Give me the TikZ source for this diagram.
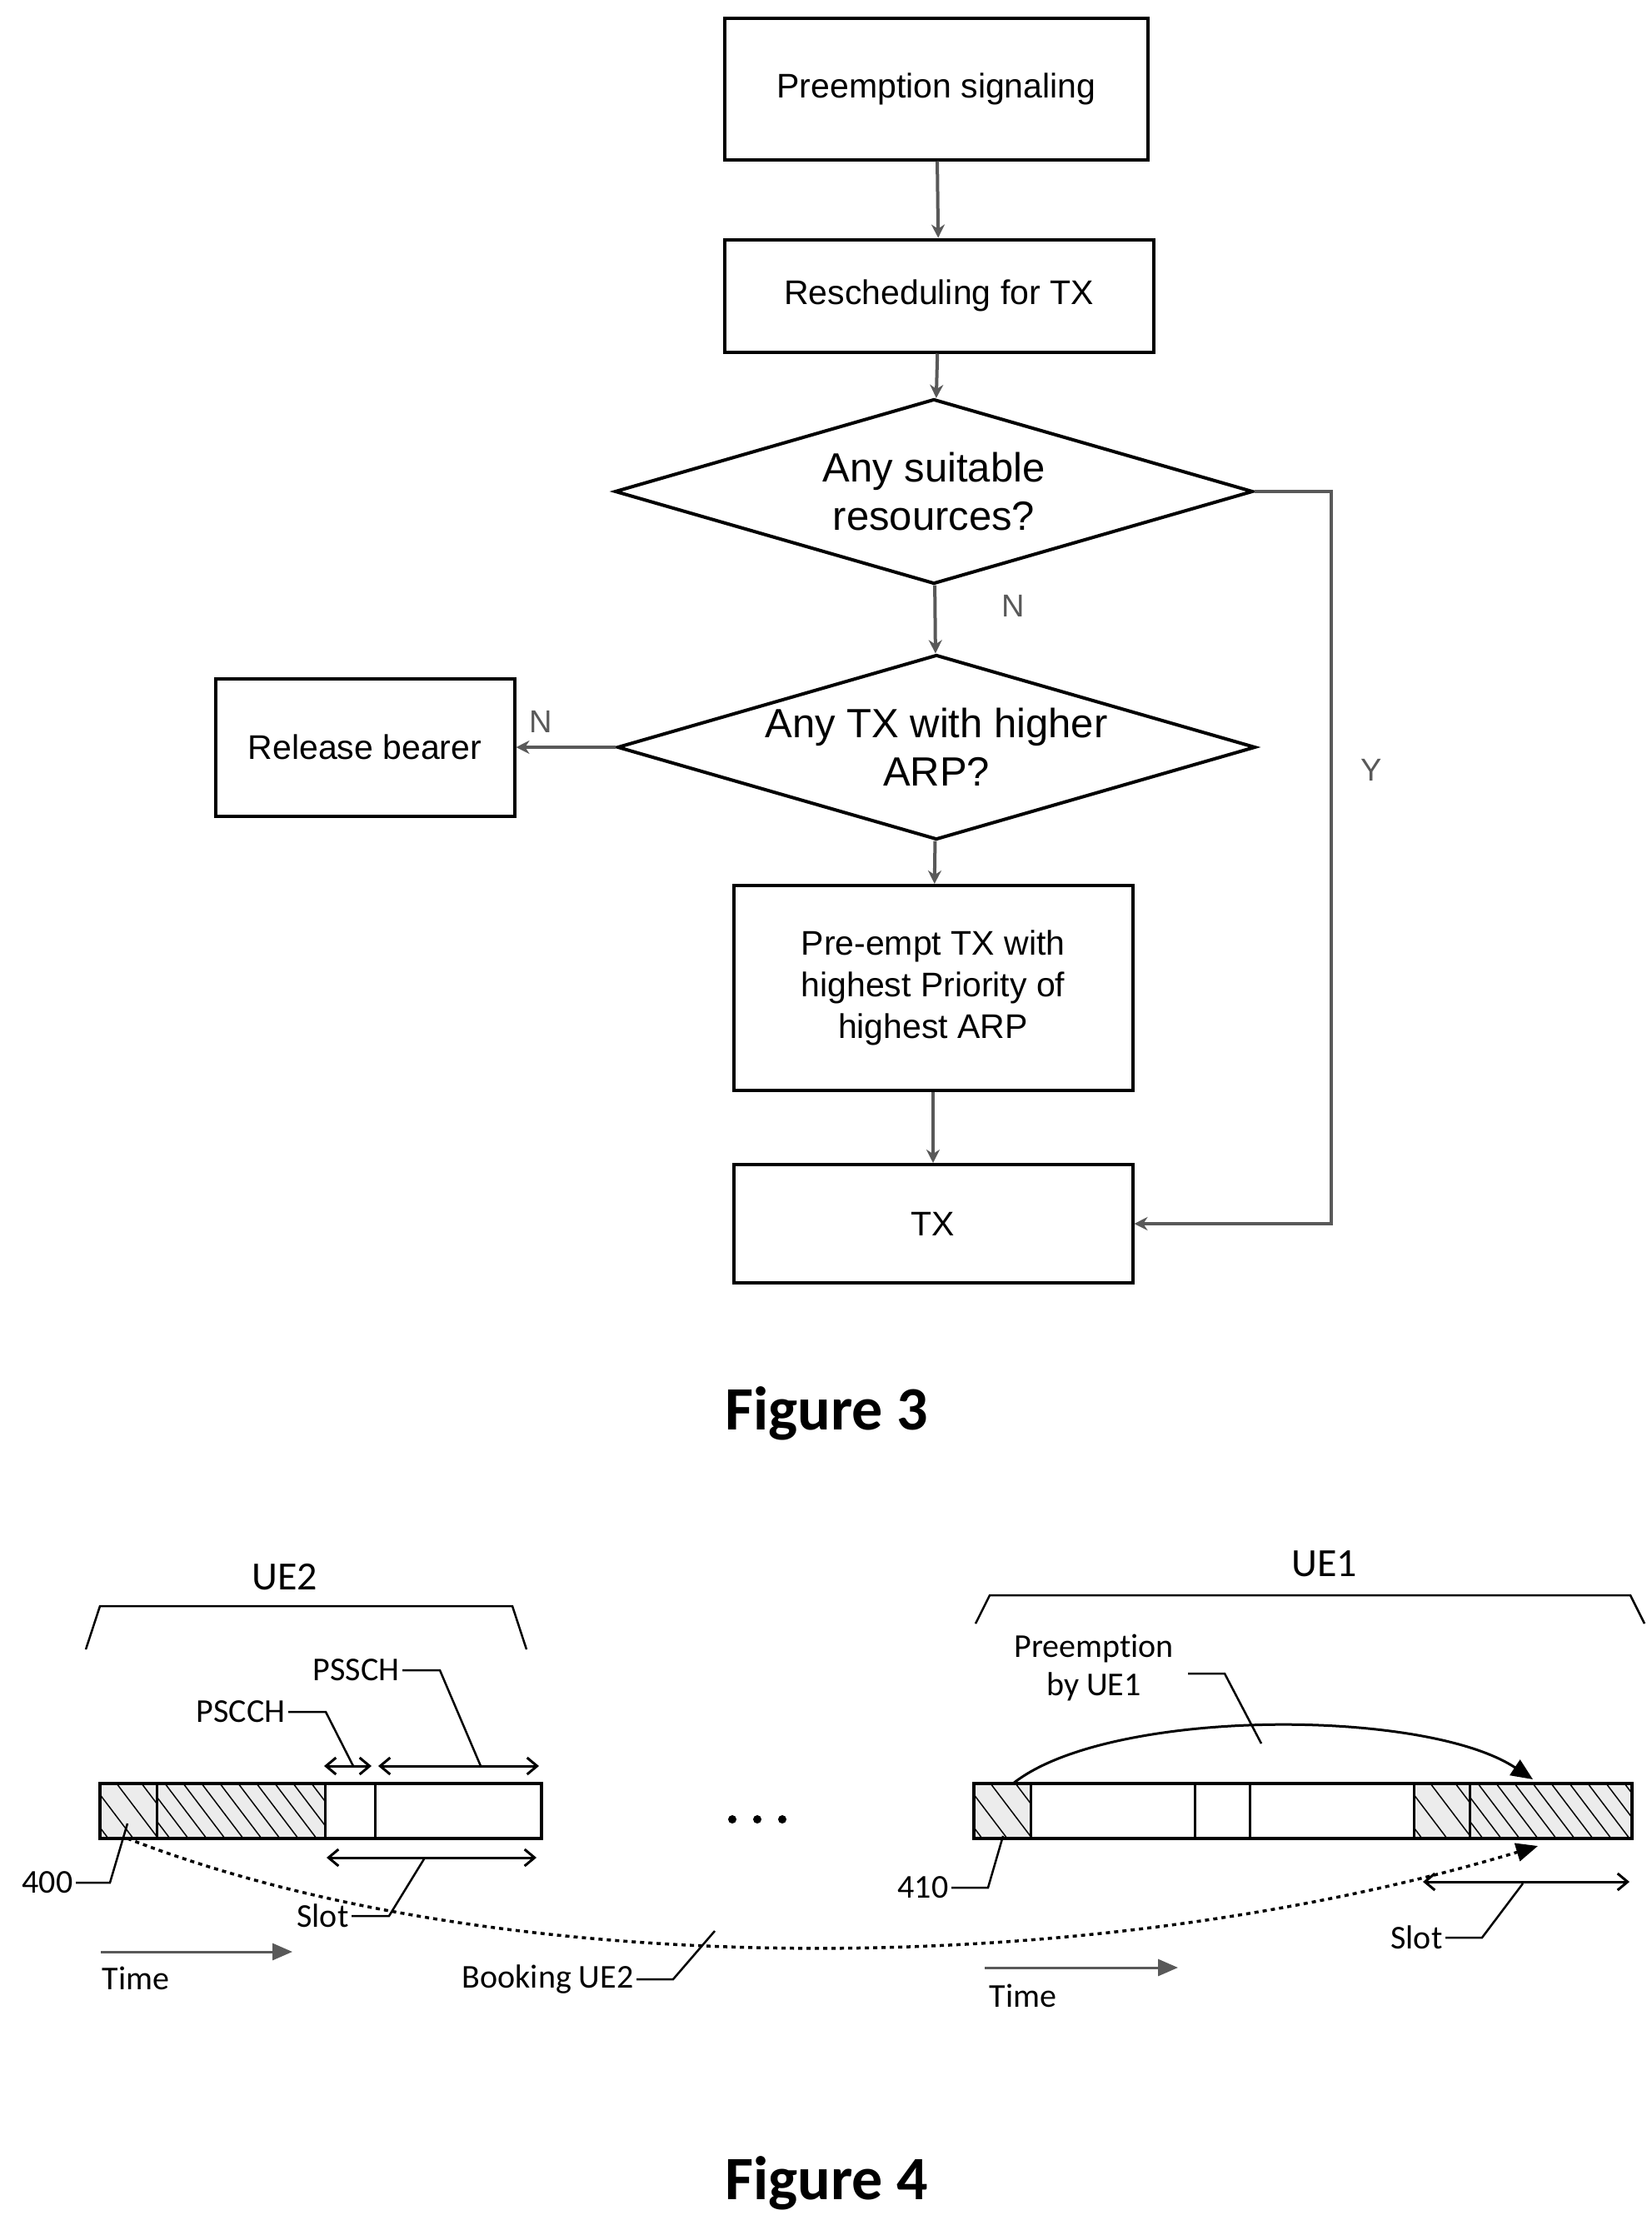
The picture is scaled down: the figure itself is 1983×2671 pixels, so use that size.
\documentclass[tikz,border=0pt]{standalone}
\usepackage{fontspec}
\setmainfont{Liberation Sans}
\newfontfamily\calib[RawFeature=-liga]{Carlito}
\usetikzlibrary{shapes.geometric,arrows.meta,positioning}
\newcommand{\hatchbox}[3]{%
  \begin{scope}
    \clip (#1,2141) rectangle (#2,2207);
    \foreach \hx in {0,#3,...,300}
      \draw[line width=1.5pt] (#1-100+\hx,2141) -- (#1-50+\hx,2207);
  \end{scope}}
\tikzset{
  blk/.style={draw,line width=4pt,rectangle,align=center,font=\fontsize{41}{50}\selectfont},
  dec/.style={draw,line width=4pt,diamond,align=center,inner sep=0pt,aspect=3.45,
    minimum width=766pt,minimum height=222pt,font=\fontsize{49}{58}\selectfont},
  flow/.style={line width=4pt,gray!70!black,-{Stealth[length=16pt,width=16pt]}},
  lbl/.style={font=\calib\fontsize{40}{46}\selectfont},
  lead/.style={line width=2.5pt},
  dbl/.style={line width=3pt,{Straight Barb[length=12pt,width=20pt]}-{Straight Barb[length=12pt,width=20pt]}},
}
\begin{document}
\begin{tikzpicture}[x=1pt,y=-1pt]
\useasboundingbox (0,0) rectangle (1983,2671);
% Figure 3
\node[blk,minimum width=508pt,minimum height=169pt] (sig) at (1124,107) {Preemption signaling};
\node[blk,minimum width=515pt,minimum height=135pt] (resch) at (1127,355) {Rescheduling for TX};
\node[dec] (suit) at (1121,590) {Any suitable\\resources?};
\node[dec] (arp) at (1124,897) {Any TX with higher\\ARP?};
\node[blk,minimum width=359pt,minimum height=165pt] (rel) at (438,897) {Release bearer};
\node[blk,minimum width=479pt,minimum height=246pt] (pre) at (1120,1186) {Pre-empt TX with\\highest Priority of\\highest ARP};
\node[blk,minimum width=479pt,minimum height=142pt] (tx) at (1120,1469) {TX};
\coordinate (yc) at (1598,590);
\draw[flow] (sig) -- (resch);
\draw[flow] (resch) -- (suit);
\draw[flow] (suit) -- node[right=75pt,pos=0.3,font=\fontsize{38}{40}\selectfont]{N} (arp);
\draw[flow] (arp) -- node[above=12pt,pos=0.75,font=\fontsize{38}{40}\selectfont]{N} (rel);
\draw[flow] (arp) -- (pre);
\draw[flow] (pre) -- (tx);
\draw[flow] (suit.east) -- (yc) |- node[pos=0.19,right=30pt,font=\fontsize{38}{40}\selectfont]{Y} (tx.east);
\node[font=\calib\bfseries\fontsize{74}{80}\selectfont] (f3) at (992,1697) {Figure 3};
% Figure 4
\draw[lead] (103,1980) -- (120,1928) -- (615,1928) -- (632,1980);
\node[lbl,font=\calib\fontsize{48}{52}\selectfont] (ue2) at (342,1893) {UE2};
\draw[lead] (1171,1949) -- (1188,1915) -- (1957,1915) -- (1974,1949);
\node[lbl,font=\calib\fontsize{48}{52}\selectfont] (ue1) at (1590,1877) {UE1};
% left slot bar
\fill[gray!15] (120,2141) rectangle (390,2207);
\hatchbox{120}{188}{30}
\hatchbox{188}{390}{22}
\draw[line width=4pt] (120,2141) rectangle (650,2207);
\foreach \xd in {188,390,450} \draw[line width=3pt] (\xd,2141) -- (\xd,2207);
% right slot bar
\fill[gray!15] (1169,2141) rectangle (1237,2207);
\fill[gray!15] (1697,2141) rectangle (1959,2207);
\hatchbox{1169}{1237}{30}
\hatchbox{1697}{1764}{30}
\hatchbox{1764}{1959}{22}
\draw[line width=4pt] (1169,2141) rectangle (1959,2207);
\foreach \xd in {1237,1434,1500,1697,1764} \draw[line width=3pt] (\xd,2141) -- (\xd,2207);
\node (dots) at (909,2184) {};
\foreach \dx in {-30,0,30} \fill ([xshift=\dx pt]dots.center) circle (5pt);
% left annotations
\coordinate (pscA) at (389,2120); \coordinate (pscB) at (446,2120);
\coordinate (pssA) at (454,2120); \coordinate (pssB) at (647,2120);
\coordinate (slA) at (392,2230); \coordinate (slB) at (644,2230);
\draw[dbl] (pscA) -- (pscB);
\draw[dbl] (pssA) -- (pssB);
\draw[dbl] (slA) -- (slB);
\node[lbl,anchor=east] (pssch) at (483,2005) {PSSCH};
\draw[lead] (pssch.east) -- ++(45,0) -- (577,2120);
\node[lbl,anchor=east] (pscch) at (346,2055) {PSCCH};
\draw[lead] (pscch.east) -- ++(45,0) -- (424,2120);
\node[lbl,anchor=east] (n400) at (91,2260) {400};
\draw[lead] (n400.east) -- ++(41,0) -- (153,2189);
\node[lbl,anchor=east] (slotl) at (422,2300) {Slot};
\draw[lead] (slotl.east) -- ++(45,0) -- (510,2230);
\coordinate (tlA) at (121,2343); \coordinate (tlB) at (351,2343);
\draw[line width=3pt,gray!70!black,-{Triangle[length=24pt,width=20pt]}] (tlA) -- (tlB);
\node[lbl] (timel) at (163,2375) {Time};
% right annotations
\coordinate (preA) at (1216,2141); \coordinate (preB) at (1840,2136);
\draw[line width=3pt,-{Triangle[length=26pt,width=22pt]}] (preA) .. controls (1330,2050) and (1710,2050) .. (preB);
\node[lbl,align=center] (preem) at (1313,2002) {Preemption\\by UE1};
\draw[lead] (1426,2009) -- (1470,2009) -- (1514,2093);
\node[lbl,anchor=east] (n410) at (1142,2266) {410};
\draw[lead] (n410.east) -- ++(44,0) -- (1204,2204);
\coordinate (srA) at (1708,2259); \coordinate (srB) at (1956,2259);
\draw[dbl] (srA) -- (srB);
\node[lbl,anchor=east] (slotr) at (1735,2326) {Slot};
\draw[lead] (slotr.east) -- ++(44,0) -- (1828,2261);
\coordinate (trA) at (1182,2362); \coordinate (trB) at (1414,2362);
\draw[line width=3pt,gray!70!black,-{Triangle[length=24pt,width=20pt]}] (trA) -- (trB);
\node[lbl] (timer) at (1228,2396) {Time};
% booking curve
\coordinate (bkA) at (153,2207); \coordinate (bkB) at (1846,2216);
\draw[line width=3.5pt,dash pattern=on 5pt off 5pt,-{Triangle[length=26pt,width=22pt]}] (bkA) .. controls (600,2380) and (1300,2380) .. (bkB);
\node[lbl,anchor=east] (book) at (764,2376) {Booking UE2};
\draw[lead] (book.east) -- ++(44,0) -- (858,2318);
\node[font=\calib\bfseries\fontsize{74}{80}\selectfont] (f4) at (992,2621) {Figure 4};
\end{tikzpicture}
\end{document}
